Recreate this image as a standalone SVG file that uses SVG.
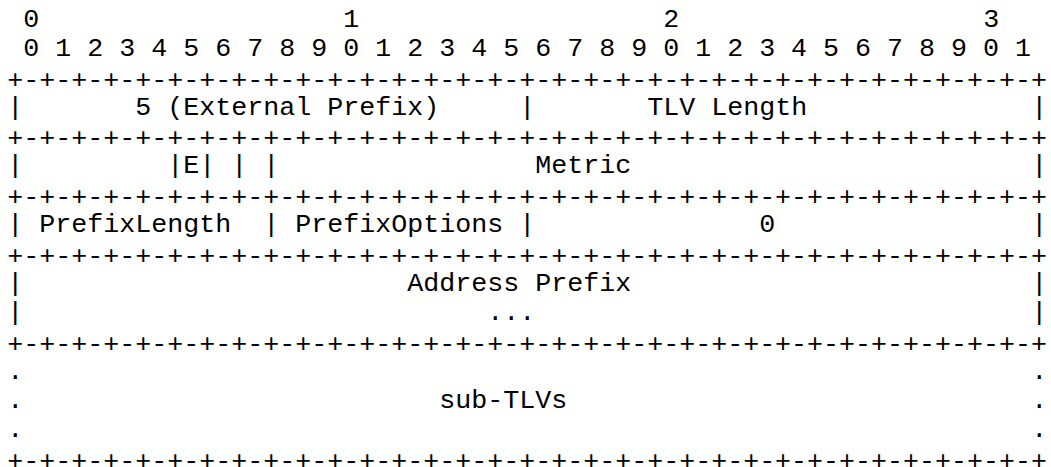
<svg xmlns="http://www.w3.org/2000/svg" xmlns:xlink="http://www.w3.org/1999/xlink" width="1051" height="467" viewBox="0 0 1051 467">
  <style>
    text { font-family: "Liberation Mono", "Courier New", monospace; font-size: 26.667px; fill: #000; white-space: pre; }
  </style>
  <defs>
    <text id="sep" x="7.3" y="0" xml:space="preserve">+-+-+-+-+-+-+-+-+-+-+-+-+-+-+-+-+-+-+-+-+-+-+-+-+-+-+-+-+-+-+-+-+</text>
  </defs>
  <rect width="1051" height="467" fill="#fff"/>
  <g id="bit-ruler">
    <text x="23.3" y="26.6">0</text>
    <text x="343.3" y="26.6">1</text>
    <text x="663.3" y="26.6">2</text>
    <text x="983.3" y="26.6">3</text>
    <text x="23.3" y="55.9" xml:space="preserve">0 1 2 3 4 5 6 7 8 9 0 1 2 3 4 5 6 7 8 9 0 1 2 3 4 5 6 7 8 9 0 1</text>
  </g>
  <g id="connectors">
    <use href="#sep" xlink:href="#sep" y="87.8"/>
    <use href="#sep" xlink:href="#sep" y="146.4"/>
    <use href="#sep" xlink:href="#sep" y="205.1"/>
    <use href="#sep" xlink:href="#sep" y="263.7"/>
    <use href="#sep" xlink:href="#sep" y="351.7"/>
    <use href="#sep" xlink:href="#sep" y="468.6"/>
  </g>
  <g id="row-type-length">
    <text x="7.3" y="114.6">|</text>
    <text x="135.3" y="114.6">5 (External Prefix)</text>
    <text x="519.3" y="114.6">|</text>
    <text x="647.3" y="114.6">TLV Length</text>
    <text x="1031.3" y="114.6">|</text>
  </g>
  <g id="row-metric">
    <text x="7.3" y="173.3">|</text>
    <text x="167.3" y="173.3">|E|</text>
    <text x="231.3" y="173.3">|</text>
    <text x="263.3" y="173.3">|</text>
    <text x="535.3" y="173.3">Metric</text>
    <text x="1031.3" y="173.3">|</text>
  </g>
  <g id="row-prefix">
    <text x="7.3" y="231.9">|</text>
    <text x="39.3" y="231.9">PrefixLength</text>
    <text x="263.3" y="231.9">|</text>
    <text x="295.3" y="231.9">PrefixOptions</text>
    <text x="519.3" y="231.9">|</text>
    <text x="759.3" y="231.9">0</text>
    <text x="1031.3" y="231.9">|</text>
  </g>
  <g id="row-address-prefix">
    <text x="7.3" y="290.6">|</text>
    <text x="407.3" y="290.6">Address Prefix</text>
    <text x="1031.3" y="290.6">|</text>
    <text x="7.3" y="319.9">|</text>
    <text x="487.3" y="319.9">...</text>
    <text x="1031.3" y="319.9">|</text>
  </g>
  <g id="row-sub-tlvs">
    <text x="7.3" y="378.6">.</text>
    <text x="1031.3" y="378.6">.</text>
    <text x="7.3" y="407.9">.</text>
    <text x="439.3" y="407.9">sub-TLVs</text>
    <text x="1031.3" y="407.9">.</text>
    <text x="7.3" y="437.2">.</text>
    <text x="1031.3" y="437.2">.</text>
  </g>
</svg>
